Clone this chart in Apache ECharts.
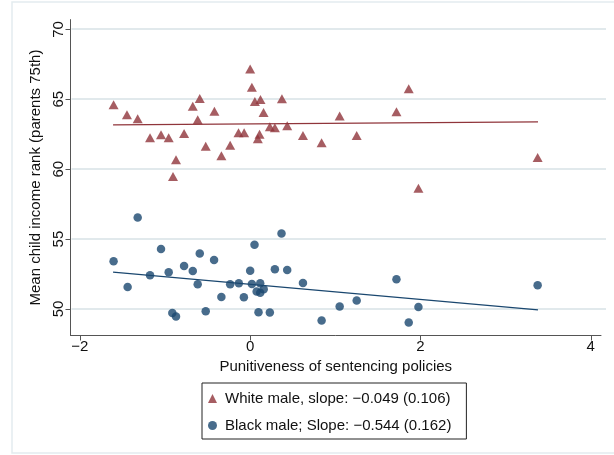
<!DOCTYPE html>
<html>
<head>
<meta charset="utf-8">
<script src="https://cdn.jsdelivr.net/npm/echarts@6/dist/echarts.min.js"></script>
<style>
  html, body { margin: 0; padding: 0; background: #fff; }
  #chart { width: 614px; height: 455px; }
</style>
</head>
<body>
<div id="chart"></div>
<script>
// white male, one point per area
const whiteX = [-1.604, -1.447, -1.321, -1.176, -1.047, -0.957, -0.871, -0.906, -0.776, -0.674,
  -0.592, -0.616, -0.522, -0.420, -0.338, -0.235, -0.137, -0.071, 0.000, 0.020,
  0.055, 0.121, 0.157, 0.110, 0.090, 0.231, 0.290, 0.373, 0.435, 0.620,
  0.839, 1.051, 1.251, 1.718, 1.862, 1.976, 3.376];
const whiteY = [64.60, 63.89, 63.60, 62.24, 62.46, 62.24, 60.67, 59.48, 62.55, 64.50,
  65.05, 63.53, 61.64, 64.14, 60.96, 61.71, 62.60, 62.60, 67.17, 65.86,
  64.84, 64.98, 64.05, 62.50, 62.17, 63.03, 62.96, 65.03, 63.10, 62.41,
  61.89, 63.81, 62.41, 64.10, 65.76, 58.64, 60.84];

// black male
const blackX = [-1.604, -1.439, -1.321, -1.176, -1.047, -0.957, -0.914, -0.871, -0.776, -0.674,
  -0.616, -0.592, -0.522, -0.424, -0.338, -0.235, -0.133, -0.074, 0.000, 0.020,
  0.051, 0.118, 0.076, 0.118, 0.159, 0.098, 0.231, 0.290, 0.368, 0.435,
  0.620, 0.839, 1.051, 1.251, 1.718, 1.862, 1.976, 3.376];
const blackY = [53.41, 51.57, 56.55, 52.41, 54.29, 52.62, 49.71, 49.46, 53.07, 52.71,
  51.76, 53.96, 49.84, 53.50, 50.86, 51.76, 51.84, 50.84, 52.74, 51.79,
  54.60, 51.84, 51.25, 51.16, 51.41, 49.76, 49.74, 52.84, 55.39, 52.79,
  51.86, 49.17, 50.17, 50.60, 52.12, 49.03, 50.14, 51.69];

// fitted lines (end points)
const fitX = [-1.61, 3.38];
const whiteFitY = [63.17, 63.39];
const blackFitY = [52.64, 49.93];

const xTicks = [-2, 0, 2, 4];
const yTicks = [50, 55, 60, 65, 70];

const whiteName = 'White male, slope: \u22120.049 (0.106)';
const blackName = 'Black male; Slope: \u22120.544 (0.162)';

const RED = '#90353b';
const NAVY = '#1a476f';
const FONT = 'Liberation Sans';
const X_MIN = -2.11, X_MAX = 4.12;

function zip(xs, ys) {
  return xs.map((x, i) => [x, ys[i]]);
}

const chart = echarts.init(document.getElementById('chart'), null, { renderer: 'canvas' });

const frame = {
  type: 'rect',
  shape: { x: 12, y: 2, width: 640, height: 451 },
  style: { fill: 'none', stroke: '#e3ecef', lineWidth: 1.5 },
  silent: true,
  z: -10
};

const option = {
  backgroundColor: '#fff',
  animation: false,
  textStyle: { fontFamily: FONT },
  graphic: [frame],
  grid: { left: 70.5, right: 13, top: 19.6, bottom: 119.5 },
  legend: {
    data: [whiteName, blackName],
    orient: 'vertical',
    left: 202,
    top: 383,
    backgroundColor: '#fff',
    borderColor: '#222',
    borderWidth: 1,
    padding: [8, 15, 6, 6],
    itemWidth: 9,
    itemHeight: 9,
    itemGap: 12,
    textStyle: { fontFamily: FONT, fontSize: 15, color: '#111', padding: [0, 0, 0, 3] }
  },
  xAxis: {
    type: 'value',
    min: X_MIN,
    max: X_MAX,
    name: 'Punitiveness of sentencing policies',
    nameLocation: 'middle',
    nameGap: 24,
    nameTextStyle: { fontFamily: FONT, fontSize: 15, color: '#111' },
    axisLine: { onZero: false, lineStyle: { color: '#555', width: 1 } },
    axisTick: { show: true, length: 5, customValues: xTicks, lineStyle: { color: '#555' } },
    axisLabel: {
      customValues: xTicks,
      fontFamily: FONT, fontSize: 15, color: '#111', margin: 4,
      formatter: v => String(v).replace('-', '\u2212')
    },
    splitLine: { show: false }
  },
  yAxis: {
    type: 'value',
    min: 48.1,
    max: 70.7,
    name: 'Mean child income rank (parents 75th)',
    nameLocation: 'middle',
    nameRotate: 90,
    nameGap: 27,
    nameTextStyle: { fontFamily: FONT, fontSize: 15, color: '#111' },
    axisLine: { show: true, onZero: false, lineStyle: { color: '#555', width: 1 } },
    axisTick: { show: true, length: 5, customValues: yTicks, lineStyle: { color: '#555' } },
    axisLabel: {
      customValues: yTicks,
      rotate: 90,
      fontFamily: FONT, fontSize: 15, color: '#111', margin: 4
    },
    splitLine: { show: false }
  },
  series: [
    {
      name: 'white fit',
      type: 'line',
      symbol: 'none',
      lineStyle: { color: RED, width: 1.3 },
      data: zip(fitX, whiteFitY),
      z: 3
    },
    {
      name: 'black fit',
      type: 'line',
      symbol: 'none',
      lineStyle: { color: NAVY, width: 1.3 },
      data: zip(fitX, blackFitY),
      z: 3
    },
    {
      name: whiteName,
      type: 'scatter',
      symbol: 'triangle',
      symbolSize: [10, 9],
      itemStyle: { color: RED },
      data: zip(whiteX, whiteY),
      z: 4
    },
    {
      name: blackName,
      type: 'scatter',
      symbol: 'circle',
      symbolSize: 8.5,
      itemStyle: { color: NAVY },
      data: zip(blackX, blackY),
      z: 4
    }
  ]
};

chart.setOption(option);

// horizontal grid lines at the y ticks, placed through the chart's own scale
const x0 = chart.convertToPixel({ xAxisIndex: 0 }, X_MIN) + 1;
const x1 = chart.convertToPixel({ xAxisIndex: 0 }, X_MAX) + 5;
const gridLines = yTicks.map(v => {
  const y = Math.round(chart.convertToPixel({ yAxisIndex: 0 }, v));
  return {
    type: 'line',
    shape: { x1: x0, y1: y, x2: x1, y2: y },
    style: { stroke: '#e1e9ec', lineWidth: 2 },
    silent: true,
    z: -5
  };
});
chart.setOption({ graphic: [frame].concat(gridLines) }, { replaceMerge: ['graphic'] });
</script>
</body>
</html>
